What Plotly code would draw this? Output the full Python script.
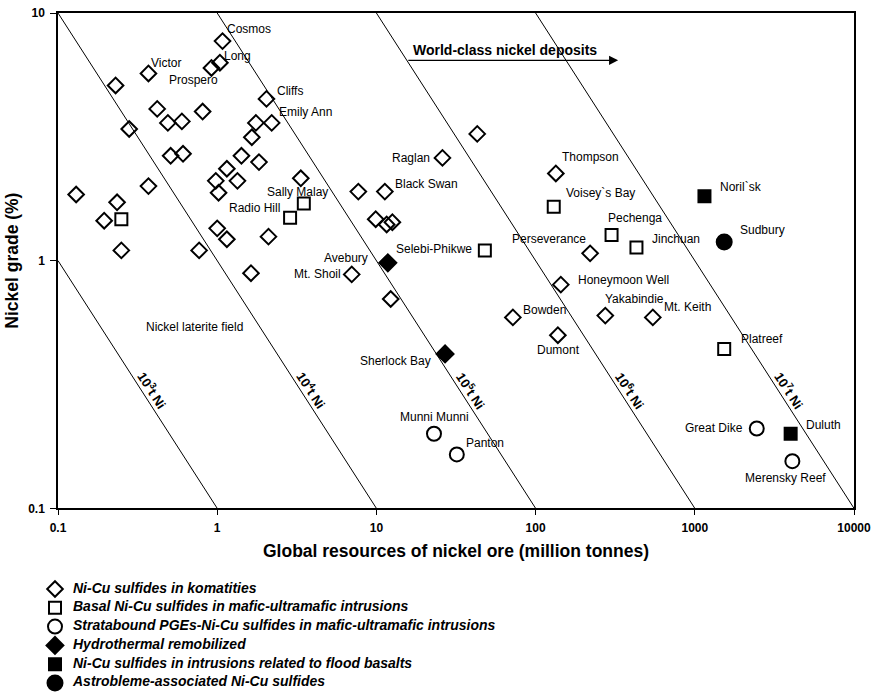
import plotly.graph_objects as go
import numpy as np

FONT = "Liberation Sans, Arial, sans-serif"

# ---- Deposit data: ore resources (Mt) and Ni grade (%) ----
# Ni-Cu sulfides in komatiites
kom_name = ["Cosmos", "Long", "Prospero", "Victor", "", "", "", "", "", "",
            "Cliffs", "", "Emily Ann", "", "", "", "", "", "", "",
            "", "", "", "", "", "", "", "", "", "",
            "", "", "", "Mt. Shoil", "", "Black Swan", "", "", "", "",
            "Raglan", "", "Thompson", "Perseverance", "Honeymoon Well",
            "Yakabindie", "Mt. Keith", "Bowden", "Dumont"]
kom_ore = [1.08, 1.04, 0.92, 0.37, 0.23, 0.42, 0.49, 0.60, 0.81, 0.28,
           2.04, 1.75, 2.2, 1.65, 0.51, 0.61, 1.42, 1.83, 1.15, 0.98,
           1.34, 1.02, 3.35, 0.13, 0.235, 0.195, 0.37, 0.25, 0.77, 1.0,
           1.15, 2.1, 1.63, 7.0, 7.7, 11.3, 9.9, 11.6, 12.6, 12.3,
           26, 43, 134, 220, 144, 274, 545, 72, 138]
kom_grade = [7.7, 6.3, 6.0, 5.7, 5.1, 4.1, 3.6, 3.65, 4.0, 3.4,
             4.5, 3.6, 3.6, 3.15, 2.65, 2.7, 2.65, 2.5, 2.35, 2.1,
             2.1, 1.88, 2.15, 1.85, 1.72, 1.45, 2.0, 1.1, 1.1, 1.35,
             1.22, 1.25, 0.89, 0.88, 1.9, 1.9, 1.47, 1.4, 1.43, 0.7,
             2.6, 3.25, 2.25, 1.07, 0.8, 0.6, 0.59, 0.59, 0.5]

# Basal Ni-Cu sulfides in mafic-ultramafic intrusions
bas_name = ["", "Sally Malay", "Radio Hill", "Selebi-Phikwe", "Voisey`s Bay",
            "Pechenga", "Jinchuan", "Platreef"]
bas_ore = [0.25, 3.5, 2.87, 48, 130, 300, 430, 1530]
bas_grade = [1.47, 1.7, 1.49, 1.1, 1.65, 1.27, 1.13, 0.44]

# Stratabound PGEs-Ni-Cu sulfides
str_name = ["Munni Munni", "Panton", "Great Dike", "Merensky Reef"]
str_ore = [23, 32, 2450, 4100]
str_grade = [0.2, 0.165, 0.21, 0.155]

# Hydrothermal remobilized
hyd_name = ["Avebury", "Sherlock Bay"]
hyd_ore = [11.8, 27]
hyd_grade = [0.98, 0.42]

# Flood-basalt related intrusions
flb_name = ["Noril`sk", "Duluth"]
flb_ore = [1150, 4000]
flb_grade = [1.82, 0.2]

# Astrobleme-associated
ast_name = ["Sudbury"]
ast_ore = [1530]
ast_grade = [1.19]

# Contained-metal isolines (tonnes Ni)
iso_tonnes = [1e3, 1e4, 1e5, 1e6, 1e7]
iso_exp = ["3", "4", "5", "6", "7"]

x_ticks = [0.1, 1, 10, 100, 1000, 10000]
x_ticktext = ["0.1", "1", "10", "100", "1000", "10000"]
y_ticks = [0.1, 1, 10]
y_ticktext = ["0.1", "1", "10"]

# label placement: (anchor, xshift px, yshift px)
label_style = {
    "Cosmos": ("left", 2, 12), "Long": ("left", 2, 7), "Prospero": ("right", 9, -12),
    "Victor": ("left", 1, 10), "Cliffs": ("left", 9, 8), "Emily Ann": ("left", 5, 11),
    "Black Swan": ("left", 8, 8), "Raglan": ("right", -10, 0), "Mt. Shoil": ("right", -9, 0),
    "Thompson": ("left", 4, 16), "Perseverance": ("right", -2, 14),
    "Honeymoon Well": ("left", 15, 5), "Yakabindie": ("left", -2, 17),
    "Mt. Keith": ("left", 9, 10), "Bowden": ("left", 8, 7), "Dumont": ("center", 1, -15),
    "Sally Malay": ("center", -6, 12), "Radio Hill": ("right", -8, 10),
    "Selebi-Phikwe": ("right", -11, 1), "Voisey`s Bay": ("left", 10, 14),
    "Pechenga": ("left", -6, 17), "Jinchuan": ("left", 14, 9), "Platreef": ("left", 15, 10),
    "Munni Munni": ("center", 1, 17), "Panton": ("left", 7, 11),
    "Great Dike": ("right", -12, 1), "Merensky Reef": ("center", -7, -17),
    "Avebury": ("right", -18, 5), "Sherlock Bay": ("right", -12, -7),
    "Noril`sk": ("left", 14, 9), "Duluth": ("left", 13, 9), "Sudbury": ("left", 14, 12),
}

fig = go.Figure()

# isolines: ore (Mt) * grade (%) * 1e4 = tonnes Ni
XMIN, XMAX, YMIN, YMAX = 0.1, 10000, 0.1, 10
for t in iso_tonnes:
    c = t / 1e4
    x0 = max(XMIN, c / YMAX)
    x1 = min(XMAX, c / YMIN)
    fig.add_trace(go.Scatter(x=[x0, x1], y=[c / x0, c / x1], mode="lines",
                             line=dict(color="black", width=1), showlegend=False,
                             hoverinfo="skip"))

groups = [
    ("Ni-Cu sulfides in komatities", kom_name, kom_ore, kom_grade, "diamond-open", 12),
    ("Basal Ni-Cu sulfides in mafic-ultramafic intrusions", bas_name, bas_ore, bas_grade, "square-open", 12),
    ("Stratabound PGEs-Ni-Cu sulfides in mafic-ultramafic intrusions", str_name, str_ore, str_grade, "circle-open", 14),
    ("Hydrothermal remobilized", hyd_name, hyd_ore, hyd_grade, "diamond", 13),
    ("Ni-Cu sulfides in intrusions related to flood basalts", flb_name, flb_ore, flb_grade, "square", 12),
    ("Astrobleme-associated Ni-Cu sulfides", ast_name, ast_ore, ast_grade, "circle", 15),
]
group_names = [g[0] for g in groups]

annotations = []
for legend_name, names, ore, grade, symbol, size in groups:
    mk = dict(symbol=symbol, size=size, color="black", line=dict(color="black", width=2))
    fig.add_trace(go.Scatter(x=ore, y=grade, mode="markers", name=legend_name,
                             marker=mk, showlegend=False))
    # key symbol in the legend panel below the chart
    fig.add_trace(go.Scatter(x=[0], y=[legend_name], xaxis="x2", yaxis="y2",
                             mode="markers", marker=mk, cliponaxis=False,
                             showlegend=False, hoverinfo="skip"))
    for n, xv, yv in zip(names, ore, grade):
        if not n:
            continue
        anchor, dx, dy = label_style[n]
        annotations.append(dict(
            x=np.log10(xv), y=np.log10(yv), xref="x", yref="y", text=n,
            showarrow=False, xanchor=anchor, yanchor="middle",
            xshift=dx, yshift=dy, font=dict(family=FONT, size=12, color="black")))

# legend texts
fig.add_trace(go.Scatter(x=[18] * len(group_names), y=group_names, xaxis="x2", yaxis="y2",
                         mode="text", text=group_names, textposition="middle right",
                         textfont=dict(family=FONT, size=14, color="black",
                                       weight="bold", style="italic"),
                         cliponaxis=False, showlegend=False, hoverinfo="skip"))

# isoline labels, rotated along the lines
label_grade = 0.3
for t, e in zip(iso_tonnes, iso_exp):
    c = t / 1e4
    annotations.append(dict(
        x=np.log10(c / label_grade), y=np.log10(label_grade), xref="x", yref="y",
        text=f"<b>10<sup>{e}</sup>t Ni</b>", showarrow=False, textangle=57,
        xshift=11, font=dict(family=FONT, size=13, color="black")))

annotations.append(dict(
    x=np.log10(0.715), y=np.log10(0.54), xref="x", yref="y",
    text="Nickel laterite field", showarrow=False,
    font=dict(family=FONT, size=12, color="black")))

# world-class arrow starting at the 10^6 t isoline
arrow_grade = 6.44
arrow_start = 1e6 / 1e4 / arrow_grade
annotations.append(dict(
    x=np.log10(330), y=np.log10(arrow_grade), ax=np.log10(arrow_start), ay=np.log10(arrow_grade),
    xref="x", yref="y", axref="x", ayref="y", text="", showarrow=True,
    arrowhead=2, arrowsize=1.3, arrowwidth=1.4, arrowcolor="black"))
annotations.append(dict(
    x=np.log10(64), y=np.log10(7.06), xref="x", yref="y",
    text="<b>World-class nickel deposits</b>", showarrow=False,
    font=dict(family=FONT, size=14, color="black")))

# page geometry (px)
W, H = 876, 699
M_T, M_B, M_L, M_R = 13, 0, 40, 22
inner_w = W - M_L - M_R
inner_h = H - M_T - M_B
plot_left_px, plot_bottom_px = 58, 508.3
legend_key_px = 55
main_xdom = [(plot_left_px - M_L) / inner_w, 1]
main_ydom = [(H - M_B - plot_bottom_px) / inner_h, 1]
leg_top_px, leg_bot_px = 579.6, 692.4
leg_ydom = [(H - M_B - leg_bot_px) / inner_h, (H - M_B - leg_top_px) / inner_h]
leg_xrange = [M_L - legend_key_px, M_L - legend_key_px + inner_w]

fig.update_layout(
    width=W, height=H,
    margin=dict(l=M_L, r=M_R, t=M_T, b=M_B, autoexpand=False),
    paper_bgcolor="white", plot_bgcolor="white",
    annotations=annotations,
    showlegend=False,
    xaxis=dict(type="log", range=[-1, 4], domain=main_xdom,
               tickvals=x_ticks, ticktext=x_ticktext,
               ticks="outside", ticklen=5, tickcolor="black", ticklabelstandoff=3,
               showline=True, linecolor="black", linewidth=1.5, mirror=True,
               showgrid=False, zeroline=False,
               tickfont=dict(family=FONT, size=12, color="black", weight="bold"),
               title=dict(text="Global resources of nickel ore (million tonnes)", standoff=10,
                          font=dict(family=FONT, size=17.5, color="black", weight="bold"))),
    yaxis=dict(type="log", range=[-1, 1], domain=main_ydom,
               tickvals=y_ticks, ticktext=y_ticktext,
               ticks="outside", ticklen=6, tickcolor="black", ticklabelstandoff=3,
               showline=True, linecolor="black", linewidth=1.5, mirror=True,
               showgrid=False, zeroline=False,
               tickfont=dict(family=FONT, size=12, color="black", weight="bold"),
               title=dict(text="Nickel grade (%)", standoff=5,
                          font=dict(family=FONT, size=17.5, color="black", weight="bold"))),
    xaxis2=dict(domain=[0, 1], range=leg_xrange, anchor="y2", visible=False),
    yaxis2=dict(domain=leg_ydom, type="category", categoryorder="array",
                categoryarray=group_names, range=[len(group_names) - 0.5, -0.5],
                anchor="x2", visible=False),
)

fig.write_html("out.html")
